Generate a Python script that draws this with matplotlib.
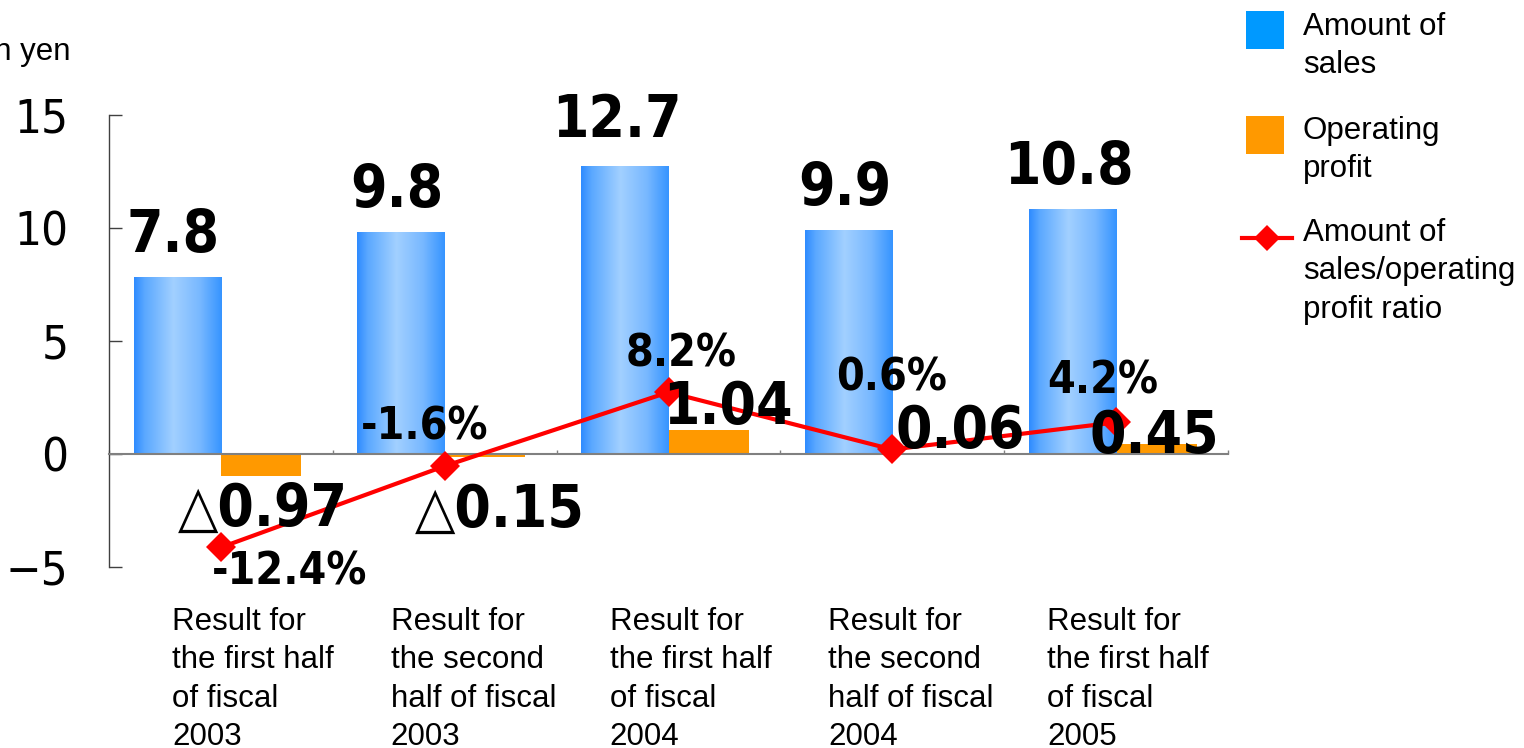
import numpy as np
import matplotlib
matplotlib.use('Agg')
import matplotlib.pyplot as plt
from matplotlib.patches import Rectangle
from matplotlib.lines import Line2D
from matplotlib.colors import LinearSegmentedColormap

# ---------------- data ----------------
categories = [
    "Result for\nthe first half\nof fiscal\n2003",
    "Result for\nthe second\nhalf of fiscal\n2003",
    "Result for\nthe first half\nof fiscal\n2004",
    "Result for\nthe second\nhalf of fiscal\n2004",
    "Result for\nthe first half\nof fiscal\n2005",
]
sales = [7.8, 9.8, 12.7, 9.9, 10.8]
operating_profit = [-0.97, -0.15, 1.04, 0.06, 0.45]
profit_ratio = [-12.4, -1.6, 8.2, 0.6, 4.2]
y_ticks = [-5, 0, 5, 10, 15]
legend_labels = ["Amount of\nsales", "Operating\nprofit",
                 "Amount of\nsales/operating\nprofit ratio"]
y_unit = "Billion yen"

# label nudges (pixels) -- styling only
sales_lbl_off = [(-4, 26), (-4, 26), (-8, 30), (-4, 25), (-4, 26)]
op_lbl_off = [(2, -50), (15, -69), (19, 6), (28, 5), (-2, -9)]
ratio_lbl_off = [(-9, -3, 'left', 'top'), (-20, 27, 'center', 'baseline'),
                 (13, 26, 'center', 'baseline'), (-1, 59, 'center', 'baseline'),
                 (-13, 29, 'center', 'baseline')]

ARIAL = ['Liberation Sans', 'DejaVu Sans']
plt.rcParams['font.family'] = ['DejaVu Sans']
plt.rcParams['font.stretch'] = 'condensed'
NUM = dict(family=['DejaVu Sans'], stretch='condensed', fontweight='bold')

W, H = 1524, 748
fig = plt.figure(figsize=(W / 100, H / 100), dpi=100)
fig.patch.set_facecolor('white')
ax = fig.add_axes([109 / W, 1 - 567 / H, (1228 - 109) / W, (567 - 115) / H])

x = np.arange(len(categories))
blue_w, orange_w = 0.39, 0.36

blue_bars = ax.bar(x - blue_w, sales, width=blue_w, align='edge',
                   facecolor='none', edgecolor='none', zorder=2)
orange_bars = ax.bar(x, operating_profit, width=orange_w, align='edge',
                     color='#FF9900', edgecolor='none', zorder=2)

# gradient fill for blue bars
cmap = LinearSegmentedColormap.from_list('bluegrad', [
    (0.0, '#2E8BFF'), (0.12, '#5AA8FF'), (0.45, '#A2D0FF'),
    (0.75, '#78B8FF'), (1.0, '#3594FF')])
grad = np.linspace(0, 1, 256).reshape(1, -1)
for r in blue_bars:
    ax.imshow(grad, extent=[r.get_x(), r.get_x() + r.get_width(), 0, r.get_height()],
              aspect='auto', cmap=cmap, zorder=2, interpolation='bilinear')

ax.set_xlim(-0.5, len(categories) - 0.5)
ax.set_ylim(y_ticks[0], y_ticks[-1])
ax.set_yticks(y_ticks)
ax.set_xticks(np.arange(-0.5, len(categories), 1.0))
ax.set_xticklabels([])
ax.tick_params(axis='y', direction='in', length=9.5, width=1.0, color='#404040',
               pad=29, labelsize=34)
for t in ax.get_yticklabels():
    t.set_fontstretch('condensed')
ax.tick_params(axis='x', direction='in', length=3, width=1.0, color='#808080')
for s in ['top', 'right']:
    ax.spines[s].set_visible(False)
ax.spines['bottom'].set_position(('data', 0))
ax.spines['bottom'].set_color('#808080')
ax.spines['bottom'].set_linewidth(1.5)
ax.spines['left'].set_color('#404040')
ax.spines['left'].set_linewidth(1.0)

# ratio line on hidden secondary axis
ax2 = ax.twinx()
ax2.set_ylim(y_ticks[0] * 3, y_ticks[-1] * 3)
ax2.axis('off')
ax2.plot(x, profit_ratio, color='#FF0000', lw=3, marker='D', ms=15,
         markeredgewidth=0, zorder=3, clip_on=False)

# labels
for i, r in enumerate(blue_bars):
    ax2.annotate(f"{sales[i]:.1f}",
                 xy=(r.get_x() + r.get_width() / 2, r.get_height()),
                 xycoords=ax.transData, xytext=sales_lbl_off[i],
                 textcoords='offset pixels', ha='center', va='baseline',
                 fontsize=42, **NUM)
for i, r in enumerate(orange_bars):
    v = operating_profit[i]
    txt = f"\u25B3{abs(v):.2f}" if v < 0 else f"{v:.2f}"
    ax2.annotate(txt, xy=(r.get_x() + r.get_width() / 2, v),
                 xycoords=ax.transData, xytext=op_lbl_off[i],
                 textcoords='offset pixels', ha='center', va='baseline',
                 fontsize=42, **NUM)
for i, v in enumerate(profit_ratio):
    dx, dy, ha, va = ratio_lbl_off[i]
    ax2.annotate(f"{v:.1f}%", xy=(x[i], v), xycoords='data', xytext=(dx, dy),
                 textcoords='offset pixels', ha=ha, va=va,
                 fontsize=32, annotation_clip=False, **NUM)

# category labels (left-aligned blocks under each category)
for i, c in enumerate(categories):
    fig.text((172 + 218.75 * i) / W, 1 - 607 / H, c, ha='left', va='top',
             fontsize=22.5, family=ARIAL, stretch='normal', linespacing=1.36)

# unit label
fig.text(70 / W, 1 - 52 / H, y_unit, ha='right', va='center',
         fontsize=22.5, family=ARIAL, stretch='normal')

# legend (manual)
fig.add_artist(Rectangle((1246 / W, 1 - 49 / H), 38 / W, 38 / H,
                         transform=fig.transFigure, facecolor='#0099FF', edgecolor='none'))
fig.add_artist(Rectangle((1246 / W, 1 - 154 / H), 38 / W, 38 / H,
                         transform=fig.transFigure, facecolor='#FF9900', edgecolor='none'))
fig.add_artist(Line2D([1242 / W, 1292 / W], [1 - 238 / H, 1 - 238 / H],
                      transform=fig.transFigure, color='#FF0000', lw=3))
fig.add_artist(Line2D([1267 / W], [1 - 238 / H], transform=fig.transFigure,
                      color='#FF0000', marker='D', ms=13, markeredgewidth=0, lw=0))
for lbl, ytop in zip(legend_labels, [12, 116, 218]):
    fig.text(1303 / W, 1 - ytop / H, lbl, ha='left', va='top',
             fontsize=22.5, family=ARIAL, stretch='normal', linespacing=1.36)

fig.savefig('out.png', dpi=100)
